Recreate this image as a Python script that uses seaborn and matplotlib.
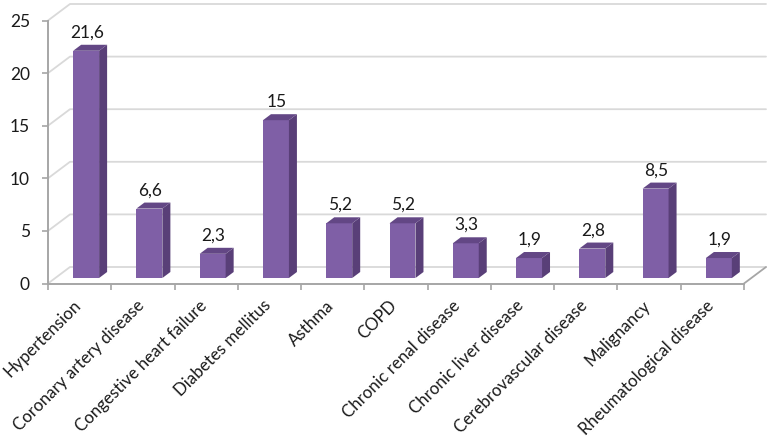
import matplotlib
matplotlib.use('Agg')
import matplotlib.pyplot as plt
import seaborn as sns
import pandas as pd
from matplotlib.patches import Polygon
from matplotlib.transforms import ScaledTranslation, IdentityTransform

categories = ['Hypertension', 'Coronary artery disease', 'Congestive heart failure',
              'Diabetes mellitus', 'Asthma', 'COPD', 'Chronic renal disease',
              'Chronic liver disease', 'Cerebrovascular disease', 'Malignancy',
              'Rheumatological disease']
values = [21.6, 6.6, 2.3, 15, 5.2, 5.2, 3.3, 1.9, 2.8, 8.5, 1.9]
y_ticks = [0, 5, 10, 15, 20, 25]

front_color = '#7f5fa6'
side_color = '#593f78'
top_color = '#634785'
grid_color = '#d9d9d9'
axis_color = '#a6a6a6'
text_color = '#1a1a1a'

sns.set_theme(style='white')
plt.rcParams['font.family'] = ['Lato', 'DejaVu Sans']

W, H = 771, 448
fig = plt.figure(figsize=(W / 100, H / 100), dpi=100)
# axes box in pixels
left, right, y_zero, y_top = 48, 744, 283.5, 20.5
ax = fig.add_axes([left / W, (H - y_zero) / H, (right - left) / W, (y_zero - y_top) / H])

df = pd.DataFrame({'cat': categories, 'val': values})
sns.barplot(data=df, x='cat', y='val', color=front_color, width=0.41, saturation=1, ax=ax, zorder=3)
ax.set_xlim(-0.5, 10.5)
ax.set_ylim(0, 25)
ax.set_xlabel('')
ax.set_ylabel('')

# back wall of the fake 3d box
wall_x, wall_y = 22, 16.5
px = IdentityTransform()
to_px = ax.transData
for t in y_ticks:
    x0, y0 = to_px.transform((-0.5, t))
    x1, y1 = to_px.transform((10.5, t))
    ax.add_line(plt.Line2D([x0, x0 + wall_x, x1 + wall_x], [y0, y0 + wall_y, y1 + wall_y],
                           transform=px, color=grid_color, lw=1.3, zorder=1, clip_on=False))
x1, y1 = to_px.transform((10.5, 0))
ax.add_line(plt.Line2D([x1, x1 + wall_x], [y1, y1 + wall_y], transform=px,
                       color=axis_color, lw=1.3, zorder=1, clip_on=False))

# shift bars off the front edge and add side and top faces
shift = ScaledTranslation(6.5 / 100, 5.5 / 100, fig.dpi_scale_trans)
dx, dy = 8, 6
for bar, v in zip(ax.patches, values):
    bar.set_transform(ax.transData + shift)
    bar.set_clip_on(False)
    bar.set_edgecolor('none')
    (xa, ya), (xb, yb) = (ax.transData + shift).transform(
        [(bar.get_x(), 0), (bar.get_x() + bar.get_width(), v)])
    ax.add_patch(Polygon([(xb, ya), (xb + dx, ya + dy), (xb + dx, yb + dy), (xb, yb)],
                         transform=px, color=side_color, lw=0, zorder=3, clip_on=False))
    ax.add_patch(Polygon([(xa, yb), (xa + dx, yb + dy), (xb + dx, yb + dy), (xb, yb)],
                         transform=px, color=top_color, lw=0, zorder=3, clip_on=False))
    label = f'{v:g}'.replace('.', ',')
    ax.annotate(label, xy=((xa + xb) / 2 + 1, yb), xycoords='figure pixels', xytext=(0, 7.5),
                textcoords='offset points', ha='center', va='bottom', fontsize=12.5, color=text_color)

sns.despine(ax=ax)
for s in ['left', 'bottom']:
    ax.spines[s].set_color(axis_color)
    ax.spines[s].set_linewidth(1.4)

ax.set_yticks(y_ticks)
ax.set_xticks(range(len(categories)))
ax.set_xticklabels(categories, rotation=45, ha='right', rotation_mode='anchor')
ax.tick_params(axis='y', left=True, length=4, width=1.2, color=axis_color, labelsize=12.5,
               labelcolor=text_color, pad=9)
ax.tick_params(axis='x', bottom=False, labelsize=12.2, labelcolor=text_color, pad=4)
label_shift = ScaledTranslation(-7 / 100, 0, fig.dpi_scale_trans)
for lab in ax.get_xticklabels():
    lab.set_transform(lab.get_transform() + label_shift)
# category separators sit between the labels
ax.set_xticks([i - 0.5 for i in range(len(categories) + 1)], minor=True)
ax.tick_params(axis='x', which='minor', bottom=True, length=4, width=1.2, color=axis_color)

fig.savefig('out.png', dpi=100)
